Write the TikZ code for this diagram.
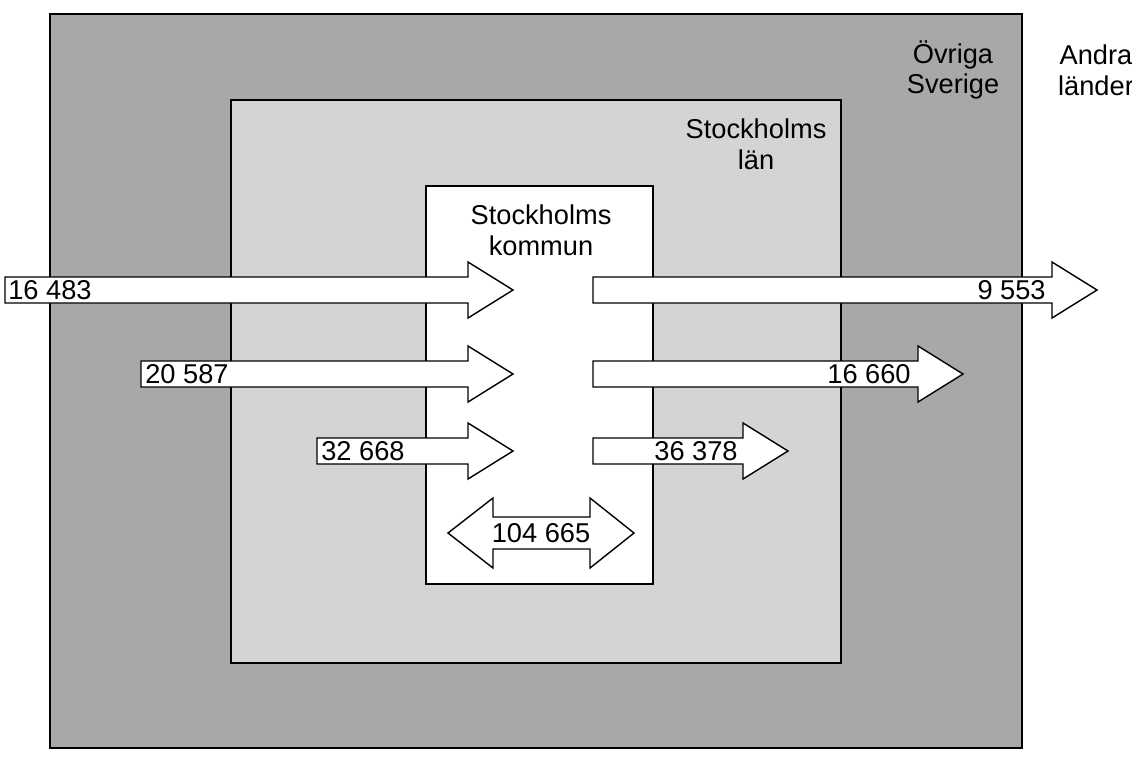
\documentclass[tikz,border=0pt]{standalone}
\usepackage{fontspec}
\setmainfont{Liberation Sans}
\begin{document}
\begin{tikzpicture}[x=0.02cm,y=-0.02cm,
  box/.style={draw=black,line width=0.6pt},
  arr/.style={draw=black,fill=white,line width=0.8pt},
  lab/.style={font=\fontsize{15.5}{17.5}\selectfont,align=center,inner sep=0pt},
  num/.style={font=\fontsize{15.5}{17.5}\selectfont,inner sep=0pt}]
\useasboundingbox (0,0) rectangle (1132,762);
\fill[white] (0,0) rectangle (1132,762);
\draw[box,fill={rgb,255:red,168;green,168;blue,168}] (50,14) rectangle (1022,748);
\draw[box,fill={rgb,255:red,212;green,212;blue,212}] (231,100) rectangle (841,663);
\draw[box,fill=white] (426,186) rectangle (653,584);
\node[lab] (ovr) at (953,70) {Övriga\\Sverige};
\node[lab] (and) at (1096,70) {Andra\\länder};
\node[lab] (sl) at (756,144) {Stockholms\\län};
\node[lab] (sk) at (541,230) {Stockholms\\kommun};
\foreach \xa/\xb/\yc in {5/468/290, 141/468/374, 317/468/451, 593/1052/290, 593/918/374, 593/743/451}{
  \draw[arr] (\xa,\yc-13) -- (\xb,\yc-13) -- (\xb,\yc-28) -- (\xb+45,\yc) -- (\xb,\yc+28) -- (\xb,\yc+13) -- (\xa,\yc+13) -- cycle;
}
\node[num,anchor=west] (a1) at (8,290) {16 483};
\node[num,anchor=west] (a2) at (145,374) {20 587};
\node[num,anchor=west] (a3) at (321,451) {32 668};
\node[num,anchor=east] (b1) at (1046,290) {9 553};
\node[num,anchor=east] (b2) at (911,374) {16 660};
\node[num,anchor=east] (b3) at (738,451) {36 378};
\draw[arr] (448,533) -- (493,498) -- (493,517) -- (590,517) -- (590,498) -- (634,533) -- (590,568) -- (590,549) -- (493,549) -- (493,568) -- cycle;
\node[num] (c) at (541,533) {104 665};
\end{tikzpicture}
\end{document}
